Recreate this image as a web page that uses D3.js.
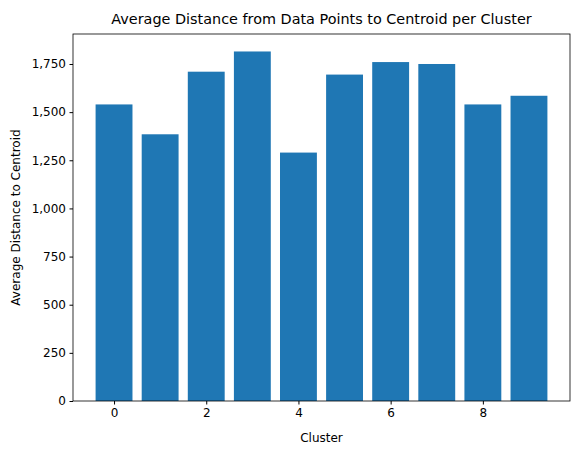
<!DOCTYPE html>
<html lang="en">
<head>
<meta charset="UTF-8">
<script src="https://d3js.org/d3.v7.min.js"></script>
<style>body{margin:0;background:#fff;font-family:"DejaVu Sans",sans-serif;}</style>
</head>
<body>
<div id="chart"></div>
<script>
const clusters = [0, 1, 2, 3, 4, 5, 6, 7, 8, 9];
const distances = [1540, 1385, 1710, 1815, 1290, 1695, 1760, 1750, 1540, 1585];
const xTicks = [0, 2, 4, 6, 8];
const yTicks = [0, 250, 500, 750, 1000, 1250, 1500, 1750];

const W = 580, H = 455;
const m = {left: 73, right: 10, top: 34, bottom: 54};

const svg = d3.select('#chart').append('svg').attr('width', W).attr('height', H);

const x = d3.scaleLinear().domain([-0.89, 9.89]).range([m.left, W - m.right]);
const y = d3.scaleLinear().domain([0, d3.max(distances) * 1.05]).range([H - m.bottom, m.top]);

svg.selectAll('.bar').data(clusters).enter().append('rect')
  .attr('x', d => x(d - 0.4))
  .attr('width', x(0.8) - x(0))
  .attr('y', (d, i) => y(distances[i]))
  .attr('height', (d, i) => y(0) - y(distances[i]))
  .attr('fill', '#1f77b4');

const xa = svg.append('g').attr('transform', `translate(0,${H - m.bottom})`)
  .call(d3.axisBottom(x).tickValues(xTicks).tickSize(3.5).tickPadding(3.5));
const ya = svg.append('g').attr('transform', `translate(${m.left},0)`)
  .call(d3.axisLeft(y).tickValues(yTicks).tickSize(3.5).tickPadding(3.5));
[xa, ya].forEach(a => {
  a.select('.domain').remove();
  a.selectAll('text').attr('font-size', 12).attr('font-family', '"DejaVu Sans"').attr('fill', '#000');
});

svg.append('rect').attr('x', m.left).attr('y', m.top)
  .attr('width', W - m.right - m.left).attr('height', H - m.bottom - m.top)
  .attr('fill', 'none').attr('stroke', '#000').attr('stroke-width', 0.8);

svg.append('text').attr('x', (m.left + W - m.right) / 2).attr('y', 442)
  .attr('text-anchor', 'middle').attr('font-size', 12).text('Cluster');
svg.append('text').attr('transform', `translate(20,${(m.top + H - m.bottom) / 2}) rotate(-90)`)
  .attr('text-anchor', 'middle').attr('font-size', 12).text('Average Distance to Centroid');
svg.append('text').attr('x', (m.left + W - m.right) / 2).attr('y', 24)
  .attr('text-anchor', 'middle').attr('font-size', 14.4).text('Average Distance from Data Points to Centroid per Cluster');
</script>
</body>
</html>
